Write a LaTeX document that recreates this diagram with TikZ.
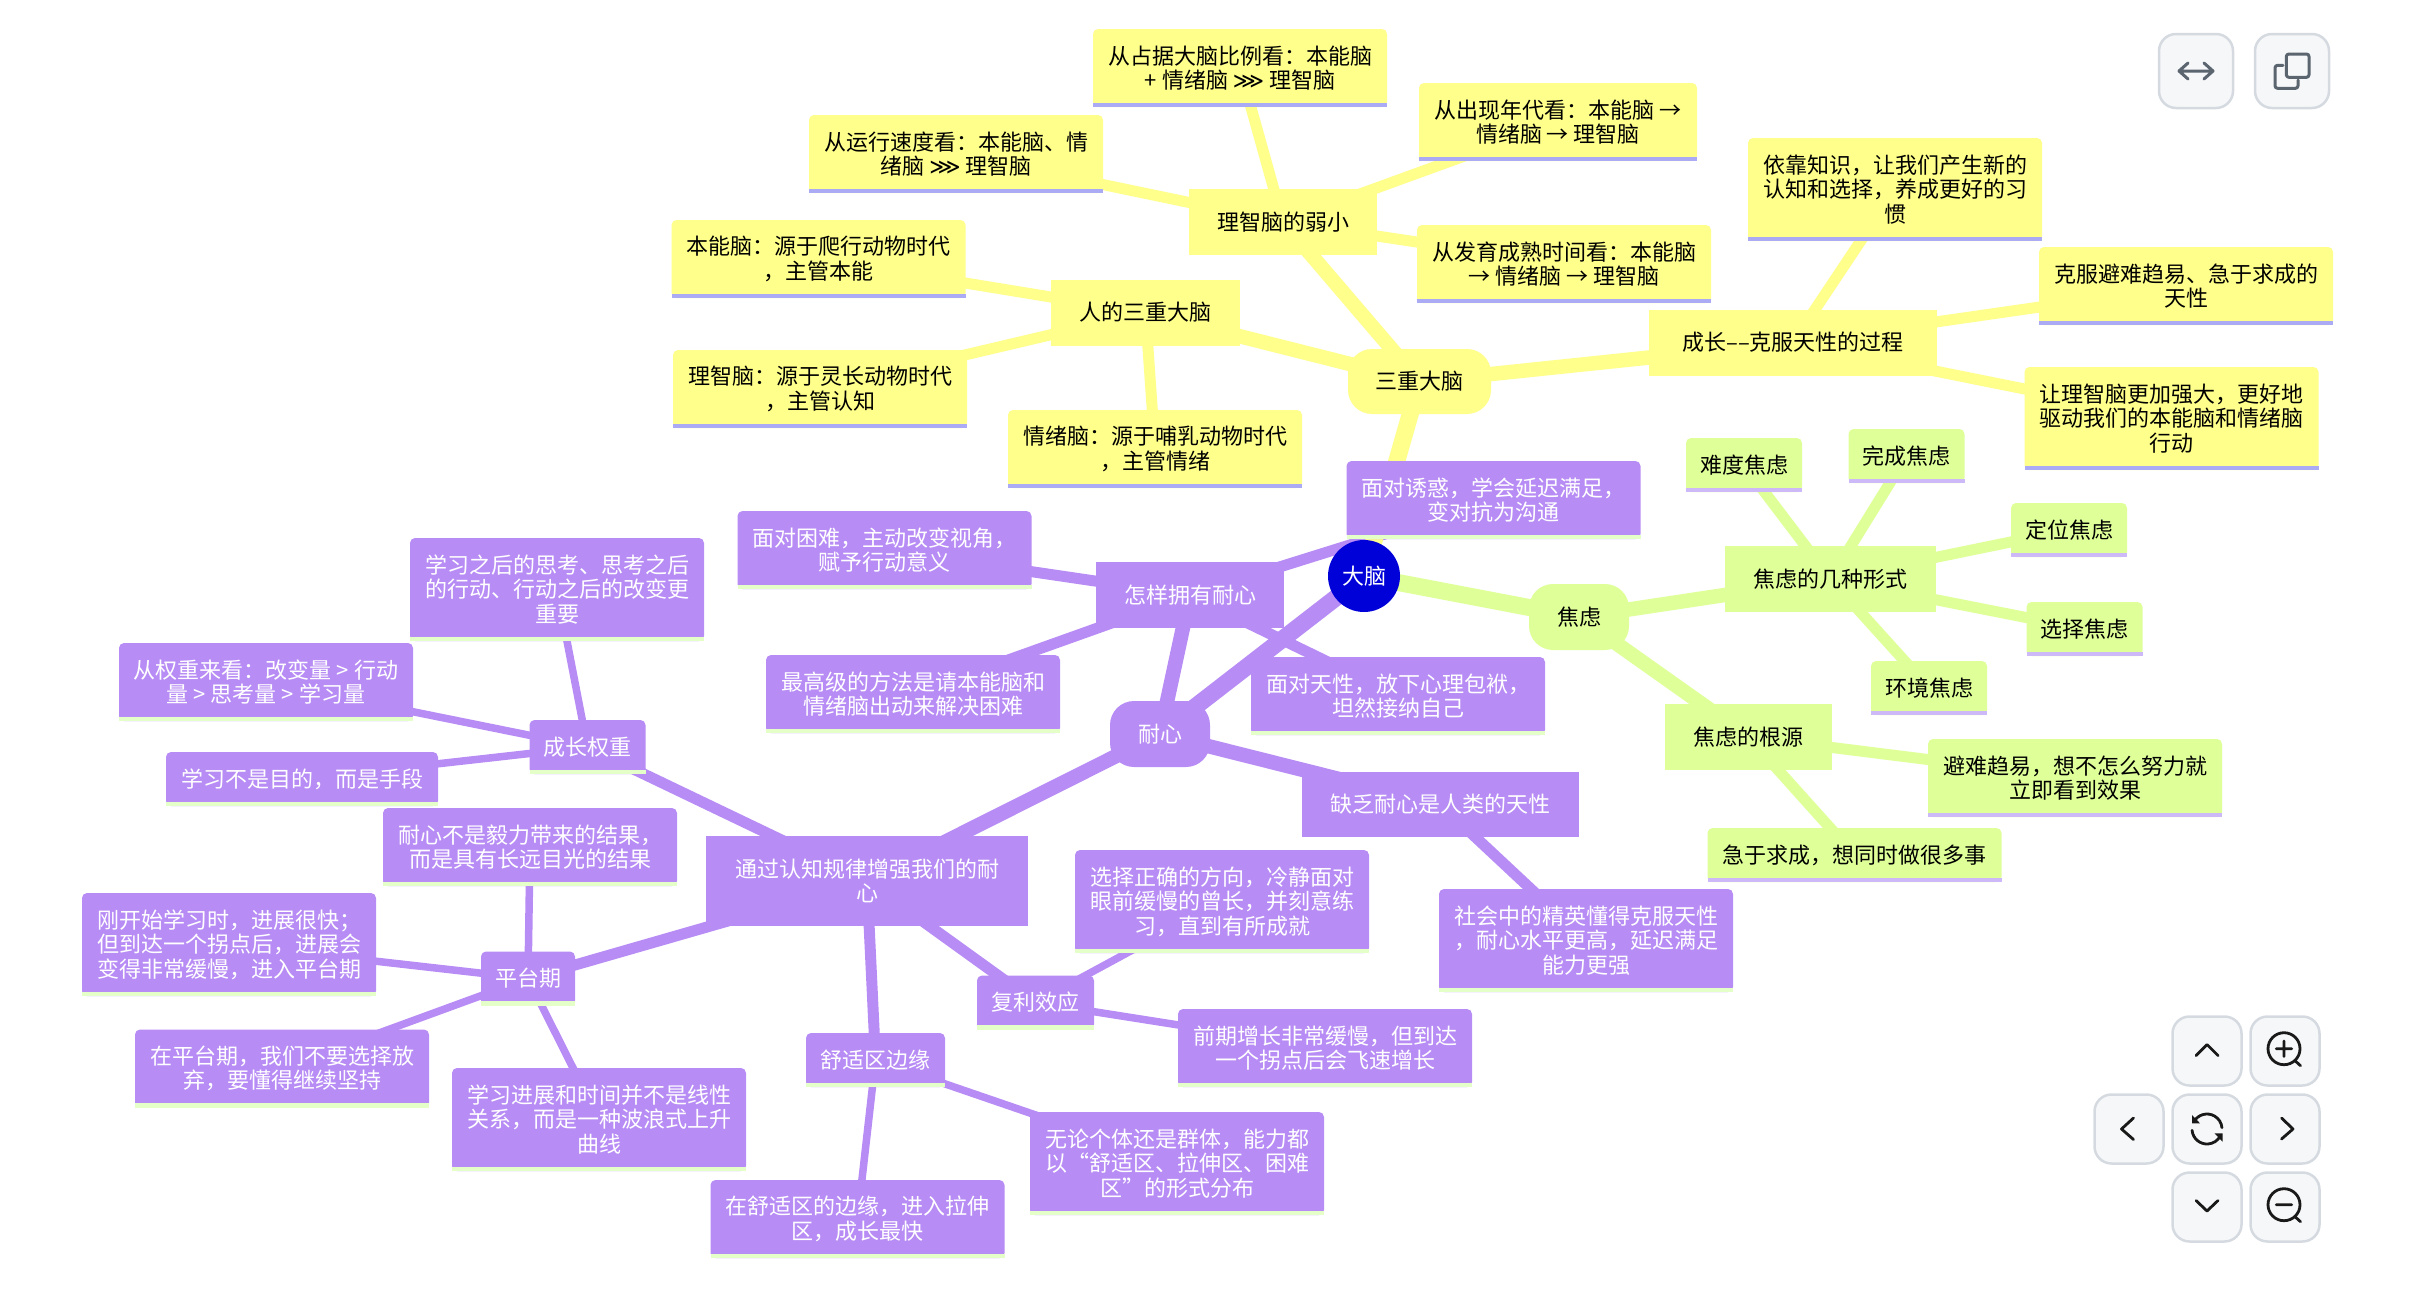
\documentclass[tikz,border=0pt]{standalone}
\usepackage{fontspec}
\setmainfont{Noto Sans CJK SC}
\newfontfamily\symfont{DejaVu Sans}
\usetikzlibrary{backgrounds}
\definecolor{mmyellow}{HTML}{FFFF8C}
\definecolor{mmgreen}{HTML}{DFFF99}
\definecolor{mmpurple}{HTML}{B88CF5}
\definecolor{mmblue}{HTML}{0000D9}
\definecolor{ulyellow}{HTML}{ABABF5}
\definecolor{ulgreen}{HTML}{CDB9F7}
\definecolor{ulpurple}{HTML}{E5FFC9}
\definecolor{btnfill}{HTML}{F6F7F9}
\definecolor{btnline}{HTML}{D5DAE1}
\definecolor{icongray}{HTML}{5B6570}
\newcommand{\ggg}{{\symfont ⋙}}

\begin{document}
\begin{tikzpicture}[x=1pt, y=-1pt,
  box/.style={inner sep=0pt, outer sep=0pt, align=center, text=black,
    font=\fontsize{22}{24.5}\selectfont},
  leaf/.style={box, rounded corners=5pt, minimum width=294pt, minimum height=78pt},
  leafthree/.style={leaf, minimum height=103pt},
  tagbox/.style={leaf, minimum width=116pt, minimum height=54pt},
  branch/.style={box, minimum height=66pt},
  topic/.style={box, rounded corners=24pt, minimum height=66pt},
  onpurple/.style={fill=mmpurple, text=white},
  linka/.style={line width=17pt},
  linkb/.style={line width=14.5pt},
  linkc/.style={line width=11pt},
  linkd/.style={line width=7.5pt},
  ctrlbtn/.style={draw=btnline, fill=btnfill, line width=2.5pt, rounded corners=17pt,
    inner sep=0pt, minimum size=69pt},
  iconline/.style={black!90, line width=2.8pt, line cap=round, line join=round},
  grayline/.style={icongray, line width=3pt, line cap=round, line join=round}]

\useasboundingbox (0,0) rectangle (2418,1296);

% root
\node[box, circle, fill=mmblue, text=white, minimum size=72pt] (brain) at (1364,576) {大脑};

% =========== yellow part ===========
\node[topic, fill=mmyellow, minimum width=143pt, minimum height=65pt] (triune) at (1419.5,381.5) {三重大脑};
\node[branch, fill=mmyellow, minimum width=188pt] (weak) at (1283,222) {理智脑的弱小};
\node[branch, fill=mmyellow, minimum width=189pt] (three) at (1145.5,312.5) {人的三重大脑};
\node[branch, fill=mmyellow, minimum width=288pt] (grow) at (1793,342.5) {成长––克服天性的过程};

\node[leaf, fill=mmyellow] (ratio) at (1240,68) {从占据大脑比例看：本能脑\\+ 情绪脑 \ggg{} 理智脑};
\node[leaf, fill=mmyellow] (speed) at (956,154) {从运行速度看：本能脑、情\\绪脑 \ggg{} 理智脑};
\node[leaf, fill=mmyellow, minimum width=278pt] (era) at (1558,122) {从出现年代看：本能脑 →\\情绪脑 → 理智脑};
\node[leaf, fill=mmyellow] (mature) at (1564,264) {从发育成熟时间看：本能脑\\→ 情绪脑 → 理智脑};

\node[leaf, fill=mmyellow] (instinct) at (818.5,259) {本能脑：源于爬行动物时代\\，主管本能};
\node[leaf, fill=mmyellow] (reason) at (820,389) {理智脑：源于灵长动物时代\\，主管认知};
\node[leaf, fill=mmyellow] (emotion) at (1155,449) {情绪脑：源于哺乳动物时代\\，主管情绪};

\node[leafthree, fill=mmyellow] (know) at (1895,189.5) {依靠知识，让我们产生新的\\认知和选择，养成更好的习\\惯};
\node[leaf, fill=mmyellow] (beat) at (2186,286) {克服避难趋易、急于求成的\\天性};
\node[leafthree, fill=mmyellow] (drive) at (2171.5,418.5) {让理智脑更加强大，更好地\\驱动我们的本能脑和情绪脑\\行动};

% =========== green part ===========
\node[topic, fill=mmgreen, minimum width=100pt] (worry) at (1579,617) {焦虑};
\node[branch, fill=mmgreen, minimum width=211pt] (forms) at (1830.5,579) {焦虑的几种形式};
\node[branch, fill=mmgreen, minimum width=167pt] (roots) at (1748.5,737) {焦虑的根源};

\node[tagbox, fill=mmgreen] (hard) at (1744,465) {难度焦虑};
\node[tagbox, fill=mmgreen] (finish) at (1906.5,456) {完成焦虑};
\node[tagbox, fill=mmgreen] (locate) at (2069,530) {定位焦虑};
\node[tagbox, fill=mmgreen] (choose) at (2084.5,629) {选择焦虑};
\node[tagbox, fill=mmgreen] (env) at (1929,688) {环境焦虑};

\node[leaf, fill=mmgreen] (easy) at (2075,778) {避难趋易，想不怎么努力就\\立即看到效果};
\node[leaf, fill=mmgreen, minimum height=54pt] (rush) at (1854.5,855) {急于求成，想同时做很多事};

% =========== purple part ===========
\node[topic, onpurple, minimum width=100pt] (patience) at (1160,734) {耐心};
\node[branch, onpurple, minimum width=188pt] (howto) at (1190,595) {怎样拥有耐心};
\node[branch, onpurple, minimum width=277pt, minimum height=65pt] (lack) at (1440.5,804.5) {缺乏耐心是人类的天性};
\node[branch, onpurple, minimum width=322pt, minimum height=90pt] (rules) at (867,881) {通过认知规律增强我们的耐\\心};

\node[leaf, onpurple] (tempt) at (1493.5,500) {面对诱惑，学会延迟满足，\\变对抗为沟通};
\node[leaf, onpurple] (trouble) at (884.5,550) {面对困难，主动改变视角，\\赋予行动意义};
\node[leaf, onpurple] (best) at (913,694) {最高级的方法是请本能脑和\\情绪脑出动来解决困难};
\node[leaf, onpurple] (accept) at (1398,696) {面对天性，放下心理包袱，\\坦然接纳自己};
\node[leafthree, onpurple] (elite) at (1586,940.5) {社会中的精英懂得克服天性\\，耐心水平更高，延迟满足\\能力更强};

\node[tagbox, onpurple] (weight) at (587.5,747) {成长权重};
\node[leafthree, onpurple] (after) at (557,589.5) {学习之后的思考、思考之后\\的行动、行动之后的改变更\\重要};
\node[leaf, onpurple] (view) at (266,682) {从权重来看：改变量 > 行动\\量 > 思考量 > 学习量};
\node[tagbox, onpurple, minimum width=272pt] (means) at (302,779) {学习不是目的，而是手段};

\node[tagbox, onpurple, minimum width=94pt] (plateau) at (528,978.5) {平台期};
\node[leaf, onpurple] (vision) at (530,847) {耐心不是毅力带来的结果，\\而是具有长远目光的结果};
\node[leafthree, onpurple] (start) at (229,944.5) {刚开始学习时，进展很快；\\但到达一个拐点后，进展会\\变得非常缓慢，进入平台期};
\node[leaf, onpurple] (keep) at (282,1068.5) {在平台期，我们不要选择放\\弃，要懂得继续坚持};
\node[leafthree, onpurple] (wave) at (599,1119.5) {学习进展和时间并不是线性\\关系，而是一种波浪式上升\\曲线};

\node[tagbox, onpurple, minimum width=139pt] (comfort) at (875.5,1060) {舒适区边缘};
\node[leaf, onpurple] (edge) at (857.5,1219) {在舒适区的边缘，进入拉伸\\区，成长最快};
\node[leafthree, onpurple] (zones) at (1177,1163.5) {无论个体还是群体，能力都\\以“舒适区、拉伸区、困难\\区”的形式分布};

\node[tagbox, onpurple, minimum width=117pt] (compound) at (1035.5,1002.5) {复利效应};
\node[leafthree, onpurple] (path) at (1222,901.5) {选择正确的方向，冷静面对\\眼前缓慢的曾长，并刻意练\\习，直到有所成就};
\node[leaf, onpurple] (slow) at (1325,1048) {前期增长非常缓慢，但到达\\一个拐点后会飞速增长};

% underlines
\foreach \n in {ratio,speed,era,mature,instinct,reason,emotion,know,beat,drive}
  \fill[ulyellow] (\n.south west) rectangle ([yshift=4.5pt]\n.south east);
\foreach \n in {hard,finish,locate,choose,env,easy,rush}
  \fill[ulgreen] (\n.south west) rectangle ([yshift=4.5pt]\n.south east);
\foreach \n in {tempt,trouble,best,accept,elite,weight,after,view,means,plateau,vision,start,keep,wave,comfort,edge,zones,compound,path,slow}
  \fill[ulpurple] (\n.south west) rectangle ([yshift=4.5pt]\n.south east);

% =========== links ===========
\begin{scope}[on background layer]
  \foreach \a/\b in {howto/tempt,howto/trouble,howto/best,howto/accept,lack/elite,rules/weight,rules/plateau,rules/comfort,rules/compound}
    \draw[linkc, mmpurple] (\a.center) -- (\b.center);
  \foreach \a/\b in {weight/after,weight/view,weight/means,plateau/vision,plateau/start,plateau/keep,plateau/wave,comfort/edge,comfort/zones,compound/path,compound/slow}
    \draw[linkd, mmpurple] (\a.center) -- (\b.center);
  \foreach \a/\b in {patience/howto,patience/lack,patience/rules}
    \draw[linkb, mmpurple] (\a.center) -- (\b.center);
  \draw[linka, mmpurple] (brain.center) -- (patience.center);

  \foreach \a/\b in {weak/ratio,weak/speed,weak/era,weak/mature,three/instinct,three/reason,three/emotion,grow/know,grow/beat,grow/drive}
    \draw[linkc, mmyellow] (\a.center) -- (\b.center);
  \foreach \a/\b in {triune/weak,triune/three,triune/grow}
    \draw[linkb, mmyellow] (\a.center) -- (\b.center);
  \draw[linka, mmyellow] (brain.center) -- (triune.center);

  \foreach \a/\b in {forms/hard,forms/finish,forms/locate,forms/choose,forms/env,roots/easy,roots/rush}
    \draw[linkc, mmgreen] (\a.center) -- (\b.center);
  \foreach \a/\b in {worry/forms,worry/roots}
    \draw[linkb, mmgreen] (\a.center) -- (\b.center);
  \draw[linka, mmgreen] (brain.center) -- (worry.center);
\end{scope}

% =========== buttons ===========
\node[ctrlbtn, minimum size=74pt] (btnfit) at (2196,71) {};
\node[ctrlbtn, minimum size=74pt] (btncopy) at (2292,71) {};
\node[ctrlbtn] (btnup) at (2207,1051) {};
\node[ctrlbtn] (btnplus) at (2285,1051) {};
\node[ctrlbtn] (btnleft) at (2129,1129) {};
\node[ctrlbtn] (btnreset) at (2207,1129) {};
\node[ctrlbtn] (btnright) at (2285,1129) {};
\node[ctrlbtn] (btndown) at (2207,1207) {};
\node[ctrlbtn] (btnminus) at (2285,1207) {};

\begin{scope}[shift={(btnfit.center)}, x=1pt, y=1pt]
  \draw[grayline] (-17,0) -- (17,0) (-8,8) -- (-17,0) -- (-8,-8) (8,8) -- (17,0) -- (8,-8);
\end{scope}
\begin{scope}[shift={(btncopy.center)}, x=1pt, y=1pt]
  \draw[grayline, rounded corners=2.5pt] (-5.7,-6.3) rectangle (17,17);
  \draw[grayline, rounded corners=2.5pt] (-9,5.7) -- (-17,5.7) -- (-17,-17.3) -- (6,-17.3) -- (6,-9);
\end{scope}
\begin{scope}[shift={(btnup.center)}, x=1pt, y=1pt]
  \draw[iconline] (-11,-4.5) -- (0,6.5) -- (11,-4.5);
\end{scope}
\begin{scope}[shift={(btndown.center)}, x=1pt, y=1pt]
  \draw[iconline] (-11,6.5) -- (0,-4) -- (11,6.5);
\end{scope}
\begin{scope}[shift={(btnleft.center)}, x=1pt, y=1pt]
  \draw[iconline] (4.5,11) -- (-7.5,0) -- (4.5,-10.5);
\end{scope}
\begin{scope}[shift={(btnright.center)}, x=1pt, y=1pt]
  \draw[iconline] (-3.5,11) -- (8,0) -- (-3.5,-10);
\end{scope}
\begin{scope}[shift={(btnplus.center)}, x=1pt, y=1pt]
  \draw[iconline] (-1,2.3) circle (16pt);
  \draw[iconline] (-8.7,2.3) -- (6.7,2.3) (-1,10) -- (-1,-5.4) (10,-9.7) -- (15.5,-14.7);
\end{scope}
\begin{scope}[shift={(btnminus.center)}, x=1pt, y=1pt]
  \draw[iconline] (-1,2.3) circle (16pt);
  \draw[iconline] (-8.7,2.3) -- (6.7,2.3) (10,-9.7) -- (15.5,-14.7);
\end{scope}
\begin{scope}[shift={(btnreset.center)}, x=1pt, y=1pt]
  \draw[iconline] (150:15pt) arc (150:5:15pt);
  \draw[iconline] (185:15pt) arc (185:330:15pt);
  \fill[black!90] (-15,14) -- (-15,5.7) -- (-7,5.7) -- cycle;
  \fill[black!90] (15.5,-4.3) -- (15.5,-12.7) -- (7.5,-4.3) -- cycle;
\end{scope}

\end{tikzpicture}
\end{document}
